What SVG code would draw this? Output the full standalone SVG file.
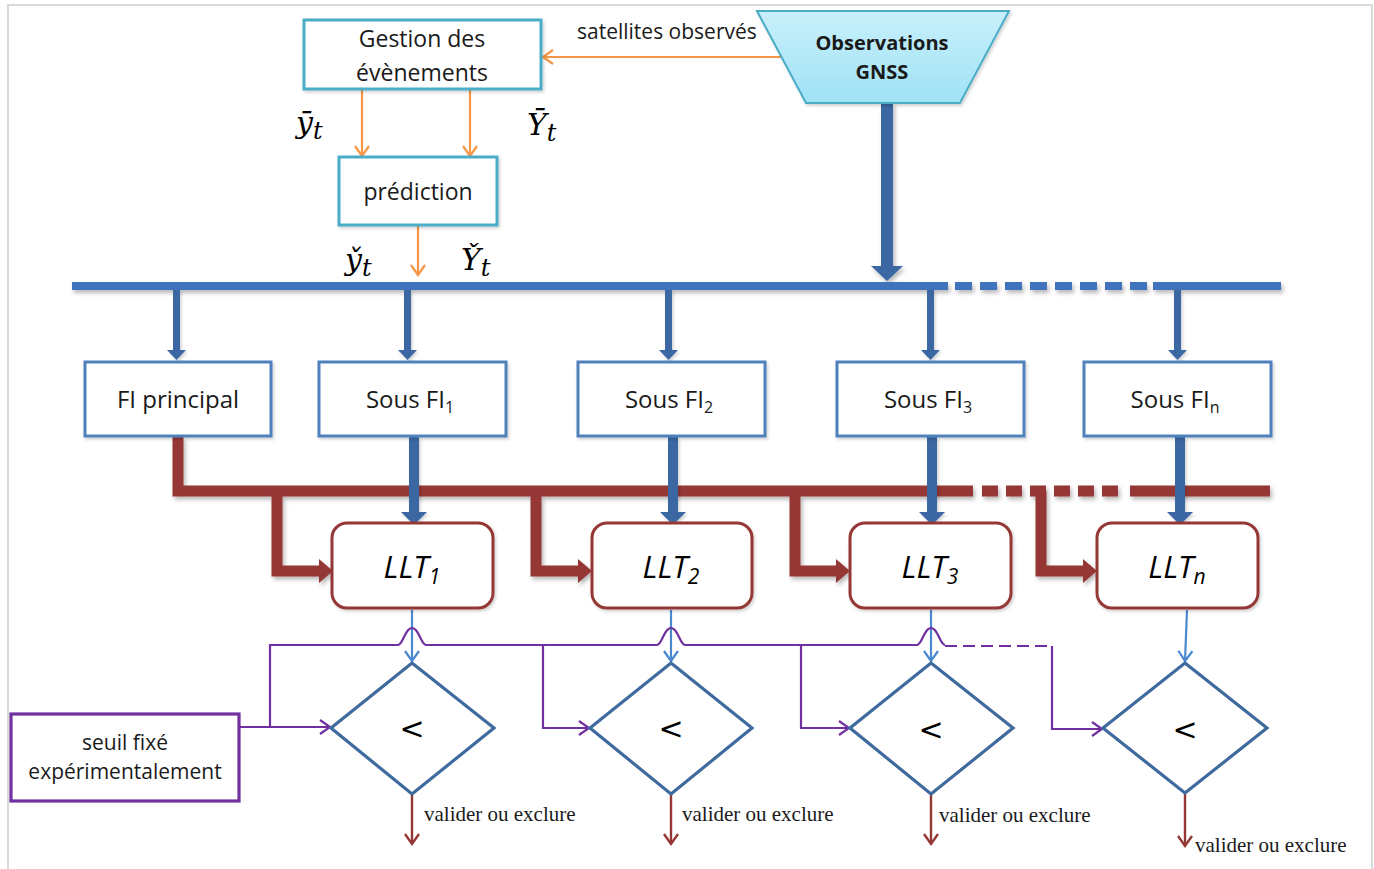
<svg xmlns="http://www.w3.org/2000/svg" width="1374" height="869" viewBox="0 0 1374 869">
  <style>
    .sans { font-family: "Open Sans", "Liberation Sans", sans-serif; fill: #1a1a1a; }
    .lbl { font-size: 23px; text-anchor: middle; }
    .fil { font-size: 24px; text-anchor: middle; }
    .teal { fill: #ffffff; stroke: #4bacc6; stroke-width: 3; }
    .fi { fill: #ffffff; stroke: #4f81bd; stroke-width: 3; }
    .llt { fill: #ffffff; stroke: #953735; stroke-width: 3; }
    .dia { fill: #ffffff; stroke: #3e6a9d; stroke-width: 3.2; stroke-linejoin: miter; }
    .llttxt { font-family: "Open Sans", "Liberation Sans", sans-serif; font-size: 31px; font-style: italic; text-anchor: middle; fill: #000; }
    .math { font-family: "DejaVu Serif", "Liberation Serif", serif; font-style: italic; font-size: 30px; fill: #000; }
    .out { font-family: "Liberation Serif", "Times New Roman", serif; font-size: 21px; fill: #1a1a1a; }
    .lt { font-family: "DejaVu Sans", "Liberation Sans", sans-serif; font-size: 30px; text-anchor: middle; fill: #000; }
    .orange { stroke: #f79646; stroke-width: 2.2; fill: none; }
    .purple { stroke: #7030a0; stroke-width: 2.2; fill: none; }
    .thinblue { stroke: #4a89d0; stroke-width: 2.2; fill: none; }
    .thinred { stroke: #953735; stroke-width: 2.4; fill: none; }
    .bus { stroke: #3f73bc; stroke-width: 8; fill: none; }
    .rbus { stroke: #953735; stroke-width: 11; fill: none; }
    .barrow { fill: #3b67a3; }
    .rarrow { fill: #953735; }
  </style>
  <defs>
    <marker id="mOrange" markerUnits="userSpaceOnUse" markerWidth="20" markerHeight="20" refX="14" refY="10" orient="auto">
      <path d="M4,3 L14,10 L4,17" fill="none" stroke="#f79646" stroke-width="2.2"/>
    </marker>
    <marker id="mPurple" markerUnits="userSpaceOnUse" markerWidth="20" markerHeight="20" refX="14" refY="10" orient="auto">
      <path d="M4,3 L14,10 L4,17" fill="none" stroke="#7030a0" stroke-width="2.2"/>
    </marker>
    <marker id="mBlue" markerUnits="userSpaceOnUse" markerWidth="20" markerHeight="20" refX="14" refY="10" orient="auto">
      <path d="M4,3 L14,10 L4,17" fill="none" stroke="#4a89d0" stroke-width="2.2"/>
    </marker>
    <marker id="mRed" markerUnits="userSpaceOnUse" markerWidth="20" markerHeight="20" refX="14" refY="10" orient="auto">
      <path d="M4,3 L14,10 L4,17" fill="none" stroke="#953735" stroke-width="2.4"/>
    </marker>
    <linearGradient id="gnssFill" x1="0" y1="0" x2="0" y2="1">
      <stop offset="0" stop-color="#c9f0fb"/>
      <stop offset="1" stop-color="#9fe2f6"/>
    </linearGradient>
    <filter id="shadow" filterUnits="userSpaceOnUse" x="0" y="0" width="1374" height="869">
      <feDropShadow dx="2" dy="3" stdDeviation="2" flood-color="#000" flood-opacity="0.28"/>
    </filter>
    <filter id="soft" filterUnits="userSpaceOnUse" x="0" y="0" width="1374" height="869">
      <feDropShadow dx="1.5" dy="2" stdDeviation="1.5" flood-color="#000" flood-opacity="0.18"/>
    </filter>
  </defs>

  <!-- page frame -->
  <rect x="0" y="0" width="1374" height="869" fill="#ffffff"/>
  <path d="M8,869 V5 H1372 V869" fill="none" stroke="#d9d9d9" stroke-width="2"/>

  <g id="connectors">
    <!-- orange event flow -->
    <path class="orange" d="M783,57 H543" marker-end="url(#mOrange)"/>
    <path class="orange" d="M362,90 V156" marker-end="url(#mOrange)"/>
    <path class="orange" d="M470,90 V156" marker-end="url(#mOrange)"/>
    <path class="orange" d="M418,226 V275" marker-end="url(#mOrange)"/>

    <!-- observation feed into the blue bus -->
    <g filter="url(#shadow)">
      <rect class="barrow" x="881" y="103" width="12" height="166"/>
      <polygon class="barrow" points="871,266 903,266 887,281"/>
    </g>

    <!-- blue bus (solid, dashed, solid) -->
    <g filter="url(#shadow)">
      <path class="bus" d="M72,286 H948"/>
      <path class="bus" d="M955,286 H1147" stroke-dasharray="17 8"/>
      <path class="bus" d="M1153,286 H1281"/>
    </g>

    <!-- bus to filters -->
    <g filter="url(#soft)">
      <rect class="barrow" x="173" y="290" width="7" height="61"/>
      <polygon class="barrow" points="167,350 186,350 176.5,360"/>
      <rect class="barrow" x="404" y="290" width="7" height="61"/>
      <polygon class="barrow" points="398,350 417,350 407.5,360"/>
      <rect class="barrow" x="665" y="290" width="7" height="61"/>
      <polygon class="barrow" points="659,350 678,350 668.5,360"/>
      <rect class="barrow" x="927" y="290" width="7" height="61"/>
      <polygon class="barrow" points="921,350 940,350 930.5,360"/>
      <rect class="barrow" x="1174" y="290" width="7" height="61"/>
      <polygon class="barrow" points="1168,350 1187,350 1177.5,360"/>
    </g>

    <!-- red bus from main filter -->
    <g filter="url(#shadow)">
      <path class="rbus" d="M178,437 V491 H973"/>
      <path class="rbus" d="M982,491 H1124" stroke-dasharray="16 8"/>
      <path class="rbus" d="M1130,491 H1270"/>
      <!-- branches into each LLT -->
      <path class="rbus" d="M277,491 V571 H320"/>
      <polygon class="rarrow" points="319,559 333,571 319,583"/>
      <path class="rbus" d="M536,491 V571 H579"/>
      <polygon class="rarrow" points="578,559 592,571 578,583"/>
      <path class="rbus" d="M795,491 V571 H837"/>
      <polygon class="rarrow" points="836,559 850,571 836,583"/>
      <path class="rbus" d="M1041,491 V571 H1084"/>
      <polygon class="rarrow" points="1083,559 1097,571 1083,583"/>
    </g>

    <!-- sub-filters to LLT -->
    <g filter="url(#soft)">
      <rect class="barrow" x="409" y="437" width="10" height="76"/>
      <polygon class="barrow" points="401,512 427,512 414,525"/>
      <rect class="barrow" x="668" y="437" width="10" height="76"/>
      <polygon class="barrow" points="660,512 686,512 673,525"/>
      <rect class="barrow" x="927" y="437" width="10" height="76"/>
      <polygon class="barrow" points="919,512 945,512 932,525"/>
      <rect class="barrow" x="1175" y="437" width="10" height="76"/>
      <polygon class="barrow" points="1167,512 1193,512 1180,525"/>
    </g>

    <!-- LLT to comparison -->
    <path class="thinblue" d="M412,610 V661" marker-end="url(#mBlue)"/>
    <path class="thinblue" d="M671,610 V661" marker-end="url(#mBlue)"/>
    <path class="thinblue" d="M931,610 V661" marker-end="url(#mBlue)"/>
    <path class="thinblue" d="M1187,610 L1185,661" marker-end="url(#mBlue)"/>

    <!-- threshold distribution with line hops -->
    <path class="purple" d="M270,727 V645 H398 C403,645 405,628 412,628 C419,628 421,645 426,645 H657 C662,645 664,628 671,628 C678,628 680,645 685,645 H917 C922,645 924,628 931,628 C938,628 940,645 945,645"/>
    <path class="purple" d="M945,646 H1052" stroke-dasharray="12 6"/>
    <path class="purple" d="M1052,646 V729 H1102" marker-end="url(#mPurple)"/>
    <path class="purple" d="M240,727 H330" marker-end="url(#mPurple)"/>
    <path class="purple" d="M543,645 V728 H589" marker-end="url(#mPurple)"/>
    <path class="purple" d="M801,645 V728 H849" marker-end="url(#mPurple)"/>

    <!-- decisions -->
    <path class="thinred" d="M412,795 V844" marker-end="url(#mRed)"/>
    <path class="thinred" d="M671,795 V844" marker-end="url(#mRed)"/>
    <path class="thinred" d="M931,795 V844" marker-end="url(#mRed)"/>
    <path class="thinred" d="M1185,794 V846" marker-end="url(#mRed)"/>
  </g>

  <!-- connector labels -->
  <text class="sans" x="577" y="39" font-size="21">satellites observés</text>
  <text class="math" x="296" y="133">ȳ<tspan font-size="24" dy="6">t</tspan></text>
  <text class="math" x="527" y="135">Ȳ<tspan font-size="24" dy="6">t</tspan></text>
  <text class="math" x="345" y="270">y̌<tspan font-size="24" dy="6">t</tspan></text>
  <text class="math" x="461" y="270">Y̌<tspan font-size="24" dy="6">t</tspan></text>
  <text class="out" x="424" y="821">valider ou exclure</text>
  <text class="out" x="682" y="821">valider ou exclure</text>
  <text class="out" x="939" y="822">valider ou exclure</text>
  <text class="out" x="1195" y="852">valider ou exclure</text>

  <g id="gestion">
    <rect class="teal" x="304" y="20" width="237" height="69" filter="url(#soft)"/>
    <text class="sans lbl" x="422" y="47">Gestion des</text>
    <text class="sans lbl" x="422" y="81">évènements</text>
  </g>

  <g id="prediction">
    <rect class="teal" x="339" y="157" width="158" height="68" filter="url(#soft)"/>
    <text class="sans lbl" x="418" y="200">prédiction</text>
  </g>

  <g id="observations">
    <polygon points="757,11 1009,11 960,103 806,103" fill="url(#gnssFill)" stroke="#4bacc6" stroke-width="2" filter="url(#soft)"/>
    <text class="sans" x="882" y="50" font-size="20" font-weight="bold" text-anchor="middle" fill="#000">Observations</text>
    <text class="sans" x="882" y="79" font-size="20" font-weight="bold" text-anchor="middle" fill="#000">GNSS</text>
  </g>

  <g id="fi-principal">
    <rect class="fi" x="85" y="362" width="186" height="74" filter="url(#soft)"/>
    <text class="sans fil" x="178" y="408">FI principal</text>
  </g>
  <g id="sous-fi-1">
    <rect class="fi" x="319" y="362" width="187" height="74" filter="url(#soft)"/>
    <text class="sans fil" x="410" y="408">Sous FI<tspan font-size="16" dy="5">1</tspan></text>
  </g>
  <g id="sous-fi-2">
    <rect class="fi" x="578" y="362" width="187" height="74" filter="url(#soft)"/>
    <text class="sans fil" x="669" y="408">Sous FI<tspan font-size="16" dy="5">2</tspan></text>
  </g>
  <g id="sous-fi-3">
    <rect class="fi" x="837" y="362" width="187" height="74" filter="url(#soft)"/>
    <text class="sans fil" x="928" y="408">Sous FI<tspan font-size="16" dy="5">3</tspan></text>
  </g>
  <g id="sous-fi-n">
    <rect class="fi" x="1084" y="362" width="187" height="74" filter="url(#soft)"/>
    <text class="sans fil" x="1175" y="408">Sous FI<tspan font-size="16" dy="5">n</tspan></text>
  </g>

  <g id="llt-1">
    <rect class="llt" x="332" y="523" width="161" height="85" rx="15" filter="url(#soft)"/>
    <text class="llttxt" x="412" y="578">LLT<tspan font-size="21" dy="6">1</tspan></text>
  </g>
  <g id="llt-2">
    <rect class="llt" x="592" y="523" width="160" height="85" rx="15" filter="url(#soft)"/>
    <text class="llttxt" x="671" y="578">LLT<tspan font-size="21" dy="6">2</tspan></text>
  </g>
  <g id="llt-3">
    <rect class="llt" x="850" y="523" width="161" height="85" rx="15" filter="url(#soft)"/>
    <text class="llttxt" x="930" y="578">LLT<tspan font-size="21" dy="6">3</tspan></text>
  </g>
  <g id="llt-n">
    <rect class="llt" x="1097" y="523" width="161" height="85" rx="15" filter="url(#soft)"/>
    <text class="llttxt" x="1177" y="578">LLT<tspan font-size="21" dy="6">n</tspan></text>
  </g>

  <g id="seuil">
    <rect x="11" y="714" width="228" height="87" fill="#ffffff" stroke="#7030a0" stroke-width="3.2"/>
    <text class="sans" x="125" y="750" font-size="21" text-anchor="middle">seuil fixé</text>
    <text class="sans" x="125" y="779" font-size="21" text-anchor="middle">expérimentalement</text>
  </g>

  <g id="compare-1">
    <polygon class="dia" points="412,663 494,728 412,794 331,728"/>
    <text class="lt" x="412" y="739">&lt;</text>
  </g>
  <g id="compare-2">
    <polygon class="dia" points="671,663 752,728 671,794 590,728"/>
    <text class="lt" x="671" y="739">&lt;</text>
  </g>
  <g id="compare-3">
    <polygon class="dia" points="931,663 1013,728 931,794 850,728"/>
    <text class="lt" x="931" y="740">&lt;</text>
  </g>
  <g id="compare-n">
    <polygon class="dia" points="1185,663 1267,728 1185,793 1103,728"/>
    <text class="lt" x="1185" y="740">&lt;</text>
  </g>
</svg>
